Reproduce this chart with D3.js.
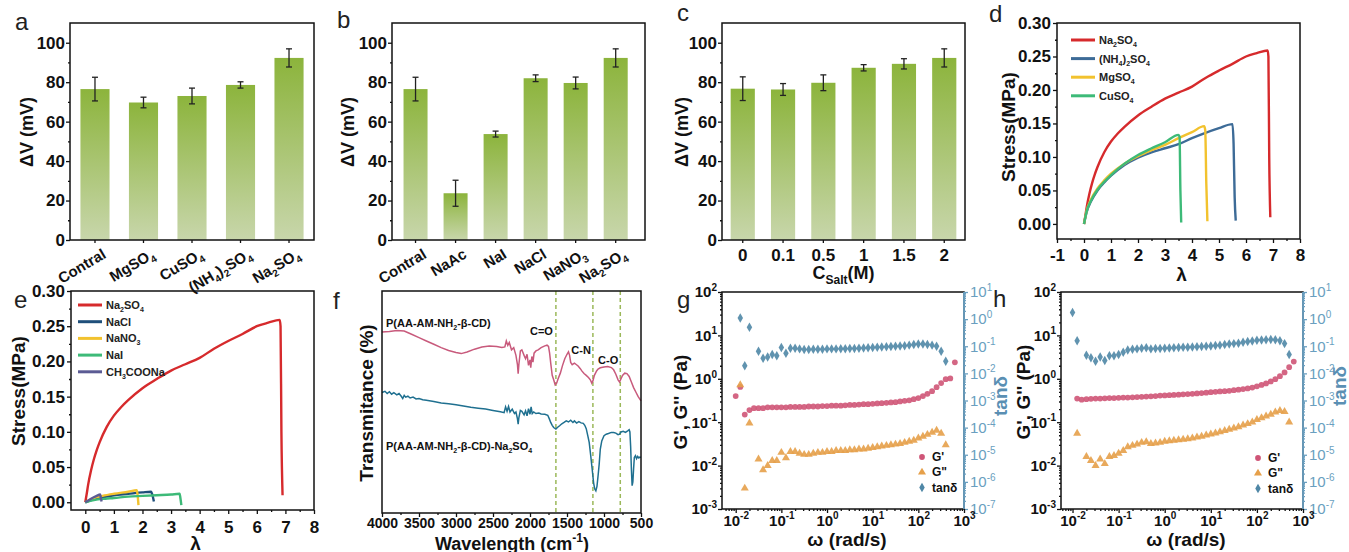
<!DOCTYPE html>
<html>
<head>
<meta charset="utf-8">
<script src="https://cdn.jsdelivr.net/npm/d3@7"></script>
<style>body{margin:0;background:#fff}</style>
</head>
<body>
<script>
// ---- data ----
const saltsA = ['Contral', 'MgSO_4', 'CuSO_4', '(NH_4)_2SO_4', 'Na_2SO_4'];
const dvA = [76.5, 69.7, 73.0, 78.6, 92.3];
const errA = [6.0, 2.7, 4.0, 1.6, 4.6];

const saltsB = ['Contral', 'NaAc', 'NaI', 'NaCl', 'NaNO_3', 'Na_2SO_4'];
const dvB = [76.5, 23.7, 53.7, 82.0, 79.6, 92.3];
const errB = [6.0, 6.6, 1.5, 1.7, 3.0, 4.6];

const concC = ['0', '0.1', '0.5', '1', '1.5', '2'];
const dvC = [76.7, 76.3, 79.7, 87.3, 89.3, 92.3];
const errC = [6.0, 3.0, 4.0, 1.6, 2.6, 4.6];

// stress-strain curves [lambda, MPa]
const curveNa2SO4 = [[0,0],[0.05,0.012],[0.1,0.025],[0.2,0.045],[0.3,0.061],[0.4,0.074],[0.5,0.085],[0.75,0.107],[1,0.123],[1.25,0.135],[1.5,0.145],[2,0.162],[2.5,0.175],[3,0.187],[3.5,0.196],[4,0.205],[4.5,0.218],[5,0.229],[5.5,0.239],[6,0.25],[6.4,0.255],[6.8,0.259],[6.83,0.25],[6.86,0.1],[6.9,0.01]];
const curveNH4 = [[0,0],[0.1,0.018],[0.25,0.033],[0.5,0.05],[0.75,0.062],[1,0.072],[1.5,0.088],[2,0.099],[2.5,0.107],[3,0.113],[3.5,0.119],[4,0.128],[4.5,0.136],[5,0.143],[5.5,0.149],[5.54,0.12],[5.58,0.04],[5.62,0.005]];
const curveMg = [[0,0],[0.1,0.02],[0.25,0.036],[0.5,0.053],[0.75,0.065],[1,0.075],[1.5,0.09],[2,0.101],[2.5,0.11],[3,0.118],[3.5,0.128],[4,0.137],[4.45,0.146],[4.49,0.14],[4.53,0.06],[4.57,0.004]];
const curveCu = [[0,0],[0.1,0.019],[0.25,0.034],[0.5,0.051],[0.75,0.063],[1,0.073],[1.5,0.09],[2,0.103],[2.5,0.113],[3,0.122],[3.5,0.133],[3.54,0.13],[3.57,0.05],[3.6,0.002]];
const curveNaCl = [[0,0],[0.3,0.004],[0.6,0.007],[1,0.01],[1.5,0.012],[2,0.014],[2.3,0.015],[2.35,0.01],[2.4,0.001]];
const curveNaNO3 = [[0,0],[0.3,0.006],[0.6,0.009],[1,0.012],[1.5,0.015],[1.8,0.017],[1.83,0.01],[1.86,-0.004]];
const curveNaI = [[0,0],[0.3,0.003],[0.7,0.005],[1,0.006],[1.5,0.008],[2,0.009],[2.5,0.01],[3,0.011],[3.3,0.012],[3.33,0.005],[3.36,-0.004]];
const curveAc = [[0,0],[0.2,0.005],[0.4,0.009],[0.52,0.011],[0.55,0.005],[0.57,0.001]];

// FTIR spectra [wavenumber, transmittance a.u.]
const ftirPolymer = [[4000,81.5],[3900,81.8],[3800,82.2],[3700,82],[3600,80.5],[3500,79],[3400,77.5],[3300,76],[3200,74.5],[3100,73.2],[3000,72.3],[2930,71.8],[2850,72.5],[2750,73.8],[2650,74.8],[2550,75.2],[2450,75],[2380,74.6],[2340,74.8],[2320,77.5],[2300,75.5],[2280,76.8],[2250,73.5],[2220,74.5],[2190,71],[2170,67],[2160,62.8],[2150,67],[2130,73],[2110,73.5],[2080,71],[2060,69.5],[2040,71.5],[2020,66.5],[2000,69],[1990,65.5],[1975,70.5],[1960,68],[1945,72],[1920,73],[1890,73.5],[1850,74.5],[1800,75.3],[1770,75.6],[1750,75],[1735,72],[1720,67.5],[1700,62],[1680,60],[1660,57.8],[1640,58.5],[1620,60.5],[1590,63],[1560,66.5],[1530,69.5],[1500,71.5],[1480,72.6],[1465,71],[1450,67.8],[1430,66.8],[1400,67.5],[1380,67],[1350,66.2],[1320,65],[1300,64],[1270,62.8],[1240,62],[1210,61],[1185,60],[1165,58.5],[1150,59.5],[1130,62],[1100,64],[1080,64.8],[1050,65.4],[1000,65.8],[950,66],[900,65.5],[870,64.5],[840,62.5],[810,60],[790,59],[770,60.5],[750,62],[720,63],[690,62.8],[660,61.5],[630,59],[600,56.5],[570,54.5],[540,52.5],[500,50.5]];
const ftirSalt = [[4000,54.3],[3960,54.8],[3930,53.8],[3900,54.6],[3870,53.5],[3840,54.2],[3800,53.2],[3770,53.8],[3740,52.6],[3720,51.6],[3700,53],[3680,52.2],[3650,52.6],[3620,51.8],[3580,52.2],[3540,51.4],[3500,51.6],[3450,51],[3400,50.8],[3300,50.2],[3200,49.6],[3100,49.2],[3000,48.8],[2900,48.2],[2800,47.6],[2700,47.2],[2600,46.8],[2500,46.2],[2400,45.6],[2350,45.2],[2330,47.8],[2310,45.8],[2290,48],[2270,45.5],[2240,46.8],[2210,44.8],[2190,45.5],[2170,42.5],[2160,40],[2150,43],[2130,46.2],[2110,45.8],[2080,44.2],[2060,46],[2040,43.8],[2020,47],[2000,44.5],[1985,47.8],[1970,44.8],[1950,45.5],[1920,44.8],[1880,45],[1850,44.6],[1800,44.5],[1760,44],[1740,42.5],[1720,40.8],[1700,39.5],[1680,38.5],[1650,37.8],[1630,38.5],[1600,39.3],[1570,40.2],[1540,40.8],[1510,41.5],[1480,41],[1450,41.8],[1420,40.8],[1400,41.5],[1370,40.5],[1340,41.2],[1310,40.6],[1280,40.4],[1260,39.5],[1240,38],[1220,35],[1200,31.8],[1180,26],[1160,19.8],[1140,13.5],[1125,10.8],[1110,10],[1095,12],[1080,16.8],[1065,22],[1050,28.8],[1030,32.5],[1000,34.8],[970,35.5],[940,35.8],[900,36.3],[870,36.3],[840,36],[810,35.3],[790,35.5],[770,36.5],[740,36.8],[710,36.3],[680,37],[660,37.5],[650,36.5],[640,30],[630,20],[620,12.3],[610,14],[600,20],[590,25],[575,25.8],[560,24.5],[545,25.5],[530,24.8],[515,25.2],[500,25]];
const ftirPeaks = [1650, 1150, 780];

// frequency sweeps
const freq = [0.01,0.0126,0.0158,0.02,0.0251,0.0316,0.0398,0.0501,0.0631,0.0794,
  0.1,0.126,0.158,0.2,0.251,0.316,0.398,0.501,0.631,0.794,
  1,1.26,1.58,2,2.51,3.16,3.98,5.01,6.31,7.94,
  10,12.6,15.8,20,25.1,31.6,39.8,50.1,63.1,79.4,
  100,126,158,200,251,316,398,501,631];
const gGp = [0.40,0.65,0.15,0.19,0.21,0.21,0.21,0.22,0.22,0.22,
  0.22,0.22,0.225,0.225,0.225,0.225,0.23,0.23,0.23,0.235,
  0.235,0.24,0.24,0.24,0.245,0.25,0.25,0.255,0.26,0.26,
  0.265,0.27,0.275,0.28,0.285,0.29,0.30,0.31,0.32,0.34,
  0.36,0.40,0.45,0.52,0.64,0.80,0.98,1.02,2.4];
const gGpp = [null,0.72,0.003,0.095,null,0.014,0.008,0.010,0.013,0.013,
  0.020,0.015,0.021,0.021,0.019,0.018,0.018,0.019,0.020,0.020,
  0.021,0.021,0.022,0.022,0.022,0.023,0.023,0.024,0.024,0.025,
  0.026,0.027,0.028,0.029,0.030,0.031,0.032,0.034,0.036,0.038,
  0.043,0.047,0.052,0.058,0.065,0.055,0.030,null,null];
const gTan = [null,1.1,0.019,0.5,null,0.066,0.036,0.040,0.050,0.045,
  0.090,0.055,0.085,0.085,0.080,0.076,0.076,0.077,0.078,0.078,
  0.080,0.080,0.080,0.081,0.081,0.082,0.083,0.085,0.086,0.088,
  0.090,0.091,0.093,0.095,0.097,0.100,0.102,0.105,0.110,0.115,
  0.120,0.120,0.115,0.110,0.100,0.066,0.028,null,null];
const hGp = [null,0.35,0.33,0.34,0.345,0.35,0.35,0.355,0.36,0.36,
  0.365,0.37,0.37,0.375,0.38,0.385,0.39,0.395,0.40,0.41,
  0.415,0.42,0.425,0.43,0.44,0.445,0.45,0.46,0.47,0.48,
  0.49,0.50,0.51,0.52,0.53,0.545,0.56,0.58,0.60,0.63,
  0.67,0.72,0.78,0.87,0.98,1.15,1.40,1.85,2.5];
const hGpp = [null,0.055,null,0.016,0.013,0.010,0.014,0.011,0.016,0.017,
  0.019,0.022,0.027,0.029,0.031,0.034,0.035,0.032,0.033,0.034,
  0.036,0.037,0.038,0.039,0.040,0.041,0.043,0.045,0.047,0.050,
  0.053,0.056,0.060,0.064,0.068,0.073,0.078,0.085,0.092,0.100,
  0.114,0.125,0.138,0.152,0.170,0.184,0.175,0.100,null];
const hTan = [1.75,0.16,null,0.047,0.038,0.028,0.040,0.030,0.045,0.045,
  0.050,0.060,0.072,0.078,0.080,0.085,0.088,0.080,0.082,0.083,
  0.085,0.087,0.088,0.090,0.091,0.092,0.094,0.096,0.098,0.100,
  0.103,0.106,0.110,0.115,0.120,0.125,0.130,0.140,0.150,0.155,
  0.165,0.170,0.175,0.178,0.175,0.160,0.125,0.050,null];

// ---- drawing ----
const svg = d3.select('body').append('svg')
  .attr('width', 1349).attr('height', 552)
  .style('font-family', '"Liberation Sans", Arial, sans-serif');

const grad = svg.append('defs').append('linearGradient')
  .attr('id', 'barGrad').attr('x1', 0).attr('y1', 0).attr('x2', 0).attr('y2', 1);
grad.append('stop').attr('offset', '0%').attr('stop-color', '#8cb43c');
grad.append('stop').attr('offset', '100%').attr('stop-color', '#c8d6ab');

// text with _sub / ^sup parts
function rich(t, s, fs) {
  t.text(null);
  const re = /([_^])\{([^}]*)\}|([_^])([^{])|([^_^]+)/g;
  let m, shift = 0;
  while ((m = re.exec(s)) !== null) {
    const kind = m[1] || m[3] || '';
    const str = m[2] !== undefined ? m[2] : m[4] !== undefined ? m[4] : m[5];
    const target = kind === '_' ? 0.28 * fs : kind === '^' ? -0.42 * fs : 0;
    const sp = t.append('tspan').text(str);
    if (kind) sp.attr('font-size', Math.round(fs * 0.68) + 'px');
    if (target !== shift) sp.attr('dy', target - shift);
    shift = target;
  }
}

function letter(x, y, s) {
  svg.append('text').attr('x', x).attr('y', y).attr('font-size', 24).attr('fill', '#222').text(s);
}

function vLabel(g, x, y, s, fs, color) {
  const t = g.append('text')
    .attr('transform', `translate(${x + 0.35 * fs},${y}) rotate(-90)`)
    .attr('text-anchor', 'middle').attr('font-size', fs).attr('font-weight', 'bold')
    .attr('fill', color || '#111');
  rich(t, s, fs);
}

function hLabel(g, x, y, s, fs) {
  const t = g.append('text').attr('x', x).attr('y', y)
    .attr('text-anchor', 'middle').attr('font-size', fs).attr('font-weight', 'bold').attr('fill', '#111');
  rich(t, s, fs);
}

function frame(g, x0, x1, y0, y1) {
  g.append('rect').attr('x', x0).attr('y', y0).attr('width', x1 - x0).attr('height', y1 - y0)
    .attr('fill', 'none').attr('stroke', '#111').attr('stroke-width', 1.5);
}

function fixAxis(ax, fs, color, weight) {
  ax.attr('font-family', null).attr('font-size', fs).attr('font-weight', weight || 'bold');
  ax.attr('color', color || '#111');
  ax.select('.domain').remove();
  ax.selectAll('.tick line').attr('stroke-width', 1.3);
  return ax;
}

function barPanel(o) {
  const g = svg.append('g');
  const x = d3.scaleBand().domain(o.cats).range([o.x0, o.x1])
    .paddingInner(0.4).paddingOuter(o.po).align(o.align);
  const y = d3.scaleLinear().domain([0, 110]).range([o.y1, o.y0]);
  const cx = d => x(d) + x.bandwidth() / 2;

  g.selectAll('rect.bar').data(o.cats).join('rect')
    .attr('x', d => x(d)).attr('width', x.bandwidth())
    .attr('y', (d, i) => y(o.vals[i])).attr('height', (d, i) => y(0) - y(o.vals[i]))
    .attr('fill', 'url(#barGrad)');

  const eb = g.selectAll('g.err').data(o.cats).join('g')
    .attr('stroke', '#222').attr('stroke-width', 1.3);
  eb.append('line').attr('x1', cx).attr('x2', cx)
    .attr('y1', (d, i) => y(o.vals[i] + o.errs[i])).attr('y2', (d, i) => y(o.vals[i] - o.errs[i]));
  eb.append('line').attr('x1', d => cx(d) - 3).attr('x2', d => cx(d) + 3)
    .attr('y1', (d, i) => y(o.vals[i] + o.errs[i])).attr('y2', (d, i) => y(o.vals[i] + o.errs[i]));
  eb.append('line').attr('x1', d => cx(d) - 3).attr('x2', d => cx(d) + 3)
    .attr('y1', (d, i) => y(o.vals[i] - o.errs[i])).attr('y2', (d, i) => y(o.vals[i] - o.errs[i]));

  frame(g, o.x0, o.x1, o.y0, o.y1);
  fixAxis(g.append('g').attr('transform', `translate(${o.x0},0)`)
    .call(d3.axisLeft(y).tickValues([0, 20, 40, 60, 80, 100]).tickSize(4).tickPadding(1)), 17);
  fixAxis(g.append('g').attr('transform', `translate(${o.x0},0)`)
    .call(d3.axisLeft(y).tickValues([10, 30, 50, 70, 90]).tickSize(2).tickFormat('')), 17);

  fixAxis(g.append('g').attr('transform', `translate(0,${o.y1})`)
    .call(d3.axisBottom(x).tickSize(3).tickPadding(6)
      .tickFormat(o.rotate ? () => '' : d => d)), 17);

  if (o.rotate) {
    o.cats.forEach(c => {
      const t = g.append('text')
        .attr('transform', `translate(${cx(c) + 12},${o.y1 + 17}) rotate(-31)`)
        .attr('text-anchor', 'end').attr('font-size', 15).attr('font-weight', 'bold').attr('fill', '#111');
      rich(t, c, 15);
    });
  }
  vLabel(g, o.labX, 132, 'ΔV (mV)', 18);
  if (o.xlab) hLabel(g, (o.x0 + o.x1) / 2, 279, o.xlab, 18);
}

barPanel({ cats: saltsA, vals: dvA, errs: errA, x0: 70, x1: 314, y0: 23, y1: 240, po: 0.215, align: 0.5, rotate: true, labX: 27 });
barPanel({ cats: saltsB, vals: dvB, errs: errB, x0: 392, x1: 645, y0: 23, y1: 240, po: 0.36, align: 0.4, rotate: true, labX: 348 });
barPanel({ cats: concC, vals: dvC, errs: errC, x0: 722, x1: 965, y0: 23, y1: 240, po: 0.215, align: 0.5, rotate: false, labX: 682, xlab: 'C_{Salt}(M)' });

function stressPanel(o) {
  const g = svg.append('g');
  const x = d3.scaleLinear().domain(o.xd).range([o.x0, o.x1]);
  const y = d3.scaleLinear().domain(o.yd).range([o.y1, o.y0]);
  const line = d3.line().x(d => x(d[0])).y(d => y(d[1])).curve(d3.curveMonotoneX);

  o.series.forEach(s => {
    g.append('path').attr('d', line(s.pts)).attr('fill', 'none')
      .attr('stroke', s.color).attr('stroke-width', 2.4).attr('stroke-linejoin', 'round');
  });

  frame(g, o.x0, o.x1, o.y0, o.y1);
  fixAxis(g.append('g').attr('transform', `translate(${o.x0},0)`)
    .call(d3.axisLeft(y).tickValues([0, 0.05, 0.1, 0.15, 0.2, 0.25, 0.3]).tickSize(4).tickPadding(2).tickFormat(d3.format('.2f'))), 17);
  fixAxis(g.append('g').attr('transform', `translate(${o.x0},0)`)
    .call(d3.axisLeft(y).tickValues([0.025, 0.075, 0.125, 0.175, 0.225, 0.275]).tickSize(2).tickFormat('')), 17);
  fixAxis(g.append('g').attr('transform', `translate(0,${o.y1})`)
    .call(d3.axisBottom(x).tickValues(o.xt).tickSize(4).tickPadding(o.xpad).tickFormat(d => String(d))), 17);
  fixAxis(g.append('g').attr('transform', `translate(0,${o.y1})`)
    .call(d3.axisBottom(x).tickValues(o.xt.slice(0, -1).map(v => v + 0.5)).tickSize(2).tickFormat('')), 17);

  o.series.forEach((s, i) => {
    const ly = o.legY + i * o.legStep;
    g.append('line').attr('x1', o.legX).attr('x2', o.legX + 24).attr('y1', ly).attr('y2', ly)
      .attr('stroke', s.color).attr('stroke-width', 3);
    const t = g.append('text').attr('x', o.legX + 28).attr('y', ly + 4)
      .attr('font-size', 11).attr('font-weight', 'bold').attr('fill', '#222');
    rich(t, s.name, 11);
  });
  vLabel(g, o.labX, o.labY, 'Stress(MPa)', 19);
  hLabel(g, (o.x0 + o.x1) / 2 + 3, o.lamY, 'λ', 19);
}

stressPanel({
  x0: 1057, x1: 1300, y0: 23, y1: 239, xd: [-1, 8], yd: [-0.0225, 0.30],
  xt: [-1, 0, 1, 2, 3, 4, 5, 6, 7, 8], xpad: 6,
  series: [
    { name: 'Na_2SO_4', color: '#d62a2c', pts: curveNa2SO4 },
    { name: '(NH_4)_2SO_4', color: '#3d6b97', pts: curveNH4 },
    { name: 'MgSO_4', color: '#f2c22e', pts: curveMg },
    { name: 'CuSO_4', color: '#3dba78', pts: curveCu }
  ],
  legX: 1071, legY: 40, legStep: 18.6, labX: 1008, labY: 127, lamY: 281
});

stressPanel({
  x0: 71, x1: 314, y0: 291, y1: 510, xd: [-0.5, 8], yd: [-0.011, 0.30],
  xt: [0, 1, 2, 3, 4, 5, 6, 7, 8], xpad: 7,
  series: [
    { name: 'Na_2SO_4', color: '#d62a2c', pts: curveNa2SO4 },
    { name: 'NaCl', color: '#1f4f7a', pts: curveNaCl },
    { name: 'NaNO_3', color: '#f2c22e', pts: curveNaNO3 },
    { name: 'NaI', color: '#3dba78', pts: curveNaI },
    { name: 'CH_3COONa', color: '#5b5b94', pts: curveAc }
  ],
  legX: 78, legY: 305, legStep: 16.7, labX: 18, labY: 391, lamY: 550
});

// ---- panel f ----
(function () {
  const g = svg.append('g');
  const x0 = 382, x1 = 641, y0 = 291, y1 = 513;
  const x = d3.scaleLinear().domain([4000, 500]).range([x0, x1]);
  const y = d3.scaleLinear().domain([0, 100]).range([y1, y0]);
  const line = d3.line().x(d => x(d[0])).y(d => y(d[1]));

  g.selectAll('line.peak').data(ftirPeaks).join('line')
    .attr('x1', d => x(d)).attr('x2', d => x(d)).attr('y1', y0).attr('y2', y1)
    .attr('stroke', '#9bb85a').attr('stroke-width', 1.5).attr('stroke-dasharray', '4,3');

  g.append('path').attr('d', line(ftirPolymer)).attr('fill', 'none').attr('stroke', '#c85a7c').attr('stroke-width', 1.5);
  g.append('path').attr('d', line(ftirSalt)).attr('fill', 'none').attr('stroke', '#1f7090').attr('stroke-width', 1.5);

  frame(g, x0, x1, y0, y1);
  fixAxis(g.append('g').attr('transform', `translate(0,${y1})`)
    .call(d3.axisBottom(x).tickValues(d3.range(4000, 499, -500)).tickSize(4).tickPadding(1).tickFormat(d => String(d))), 14);
  fixAxis(g.append('g').attr('transform', `translate(0,${y1})`)
    .call(d3.axisBottom(x).tickValues(d3.range(3750, 500, -500)).tickSize(2).tickFormat('')), 14);

  const lab = (tx, ty, s, anchor) => {
    const t = g.append('text').attr('x', tx).attr('y', ty).attr('text-anchor', anchor || 'start')
      .attr('font-size', 11).attr('font-weight', 'bold').attr('fill', '#111');
    rich(t, s, 11);
  };
  lab(386, 327, 'P(AA-AM-NH_2-β-CD)');
  lab(386, 450, 'P(AA-AM-NH_2-β-CD)-Na_2SO_4');
  lab(x(ftirPeaks[0]) - 3, 335, 'C=O', 'end');
  lab(x(ftirPeaks[1]) - 2, 354, 'C-N', 'end');
  lab(x(ftirPeaks[2]) - 2, 364, 'C-O', 'end');

  vLabel(g, 366, 403, 'Transmitance (%)', 19);
  hLabel(g, 512, 550, 'Wavelength (cm^{-1})', 18);
})();

// ---- panels g, h ----
const colGp = '#cf5577', colGpp = '#e6a04a', colTan = '#4f87a6', colAxisR = '#6a9fc0';

function rheoPanel(o) {
  const g = svg.append('g');
  const x = d3.scaleLog().domain([Math.pow(10, o.xlo), 1000]).range([o.x0, o.x1]);
  const yl = d3.scaleLog().domain([1e-3, 1e2]).range([o.y1, o.y0]);
  const yr = d3.scaleLog().domain([1e-7, 1e1]).range([o.y1, o.y0]);

  const minors = (lo, hi) => {
    const out = [];
    for (let k = -8; k < 3; k++) for (let m = 2; m < 10; m++) {
      const v = m * Math.pow(10, k);
      if (v > lo && v < hi) out.push(v);
    }
    return out;
  };
  const expLabel = function (d) { rich(d3.select(this), '10^{' + Math.round(Math.log10(d)) + '}', 15); };

  frame(g, o.x0, o.x1, o.y0, o.y1);
  g.append('line').attr('x1', o.x1).attr('x2', o.x1).attr('y1', o.y0).attr('y2', o.y1)
    .attr('stroke', colAxisR).attr('stroke-width', 1.8);

  fixAxis(g.append('g').attr('transform', `translate(${o.x0},0)`)
    .call(d3.axisLeft(yl).tickValues([1e-3, 1e-2, 1e-1, 1, 10, 100]).tickSize(4).tickPadding(1).tickFormat(() => '')), 15)
    .selectAll('.tick text').each(expLabel);
  fixAxis(g.append('g').attr('transform', `translate(${o.x0},0)`)
    .call(d3.axisLeft(yl).tickValues(minors(1e-3, 1e2)).tickSize(2).tickFormat('')), 15);

  fixAxis(g.append('g').attr('transform', `translate(${o.x1},0)`)
    .call(d3.axisRight(yr).tickValues(d3.range(-7, 2).map(k => Math.pow(10, k))).tickSize(4).tickPadding(2).tickFormat(() => '')), 15, colAxisR, 'normal')
    .selectAll('.tick text').each(expLabel);
  fixAxis(g.append('g').attr('transform', `translate(${o.x1},0)`)
    .call(d3.axisRight(yr).tickValues(minors(1e-7, 10)).tickSize(2).tickFormat('')), 15, colAxisR);

  fixAxis(g.append('g').attr('transform', `translate(0,${o.y1})`)
    .call(d3.axisBottom(x).tickValues([1e-2, 1e-1, 1, 10, 100, 1000]).tickSize(4).tickPadding(2).tickFormat(() => '')), 15)
    .selectAll('.tick text').each(expLabel);
  fixAxis(g.append('g').attr('transform', `translate(0,${o.y1})`)
    .call(d3.axisBottom(x).tickValues(minors(x.domain()[0], 1000)).tickSize(2).tickFormat('')), 15);

  const sets = [
    { name: "G'", vals: o.gp, y: yl, sym: d3.symbolCircle, size: 26, color: colGp },
    { name: 'G"', vals: o.gpp, y: yl, sym: d3.symbolTriangle, size: 28, color: colGpp },
    { name: 'tanδ', vals: o.tan, y: yr, sym: d3.symbolDiamond, size: 26, color: colTan }
  ];
  sets.forEach((s, si) => {
    const pts = freq.map((f, i) => [f, s.vals[i]]).filter(p => p[1] !== null);
    g.append('g').selectAll('path').data(pts).join('path')
      .attr('transform', d => `translate(${x(d[0])},${s.y(d[1])})`)
      .attr('d', d3.symbol(s.sym, s.size)).attr('fill', s.color).attr('opacity', 0.9);
    const ly = o.legY + si * 15.3;
    g.append('path').attr('transform', `translate(${o.legX},${ly})`)
      .attr('d', d3.symbol(s.sym, s.size)).attr('fill', s.color);
    g.append('text').attr('x', o.legX + 10).attr('y', ly + 4)
      .attr('font-size', 12).attr('font-weight', 'bold').attr('fill', '#111').text(s.name);
  });

  vLabel(g, o.labX, o.labY, "G', G'' (Pa)", 19);
  vLabel(g, o.tanX, o.tanY, 'tanδ', 19, '#5a8fb3');
  hLabel(g, (o.x0 + o.x1) / 2 + 4, 546, 'ω (rad/s)', 19);
}

rheoPanel({ x0: 722, x1: 964, y0: 292, y1: 509, xlo: -2.3, gp: gGp, gpp: gGpp, tan: gTan,
  legX: 922, legY: 457, labX: 680, labY: 402, tanX: 1000, tanY: 396 });
rheoPanel({ x0: 1061, x1: 1303, y0: 292, y1: 509, xlo: -2.25, gp: hGp, gpp: hGpp, tan: hTan,
  legX: 1258, legY: 458, labX: 1023, labY: 392, tanX: 1339, tanY: 386 });

letter(15, 30, 'a');
letter(337, 28, 'b');
letter(677, 21, 'c');
letter(989, 22, 'd');
letter(14, 308, 'e');
letter(333, 309, 'f');
letter(677, 308, 'g');
letter(993, 307, 'h');
</script>
</body>
</html>
